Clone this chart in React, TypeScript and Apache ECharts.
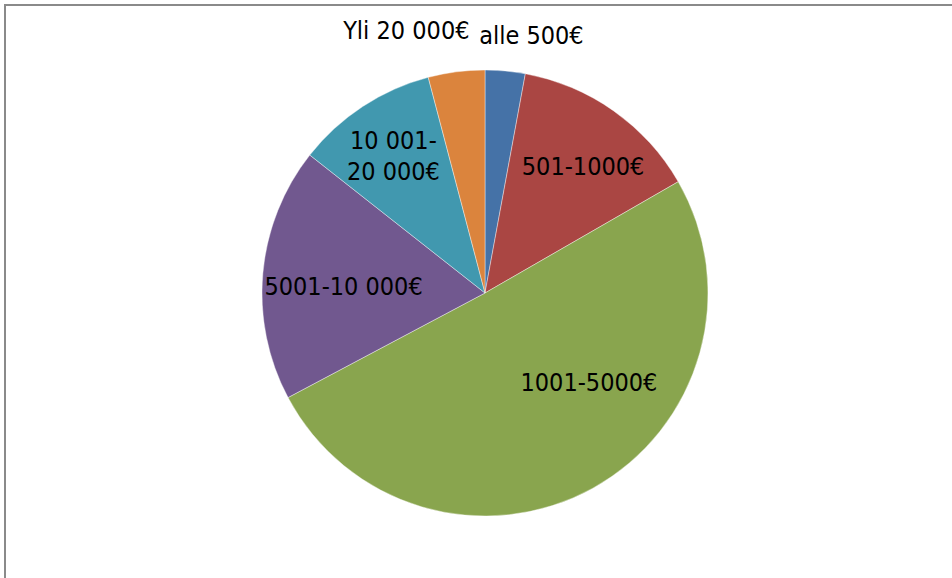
import React, { useEffect, useRef } from "react";
import * as echarts from "echarts";

const categories = ["alle 500€", "501-1000€", "1001-5000€", "5001-10 000€", "10 001-\n20 000€", "Yli 20 000€"];
const values = [2.9, 13.8, 50.6, 18.4, 10.3, 4.1];
const colors = ["#4572A7", "#AA4643", "#89A54E", "#71588F", "#4198AF", "#DB843D"];
const labelOffsets = [
  [36, -143.5],
  [32, -32.5],
  [48.5, -10.6],
  [-27.4, 3.9],
  [-28.8, -41.3],
  [-64, -149.4],
];

export default function App() {
  const ref = useRef<HTMLDivElement>(null);
  useEffect(() => {
    if (!ref.current) return;
    const chart = echarts.init(ref.current, null, { renderer: "svg" });
    chart.setOption({
      animation: false,
      backgroundColor: "#ffffff",
      graphic: [
        {
          type: "rect",
          shape: { x: 5, y: 5, width: 1200, height: 1200 },
          style: { fill: "none", stroke: "#8a8a8a", lineWidth: 2 },
          silent: true,
        },
      ],
      series: [
        {
          type: "pie",
          center: [485, 293],
          radius: [0, 223],
          startAngle: 90,
          clockwise: true,
          avoidLabelOverlap: false,
          labelLayout: { hideOverlap: false },
          itemStyle: { borderColor: "#ffffff", borderWidth: 0.4 },
          label: {
            show: true,
            position: "inside",
            color: "#000000",
            fontFamily: "'Liberation Sans Narrow', 'DejaVu Sans Condensed', sans-serif",
            fontSize: 25,
            lineHeight: 31,
            formatter: "{b}",
          },
          labelLine: { show: false },
          emphasis: { disabled: true },
          data: categories.map((name, i) => ({
            name,
            value: values[i],
            itemStyle: { color: colors[i] },
            label: { offset: labelOffsets[i] },
          })),
        },
      ],
    });
    return () => chart.dispose();
  }, []);
  return (
    <div
      ref={ref}
      style={{ position: "fixed", left: 0, top: 0, width: 952, height: 578 }}
    />
  );
}
